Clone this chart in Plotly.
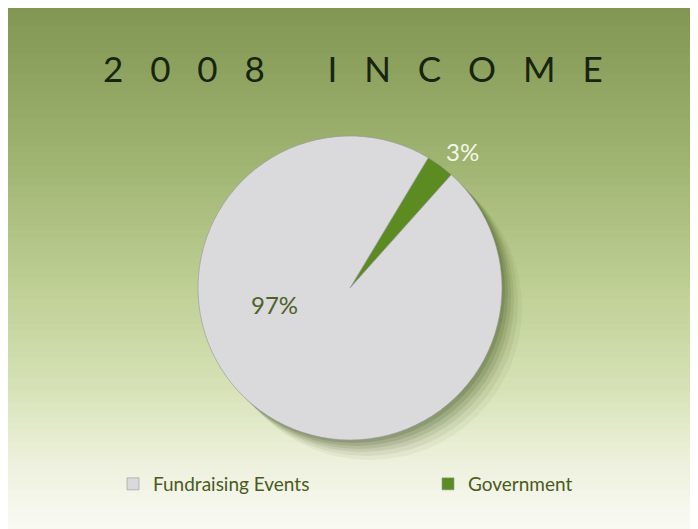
import plotly.graph_objects as go

# ---- data ----
categories = ["Government", "Fundraising Events"]
values = [3, 97]
slice_colors = ["#5c8b21", "#dadadd"]
title_words = ["2008", "INCOME"]

W, H = 698, 529
OFF = 8            # page body margin offset
L, B = 130, 60     # plot-area margins (legend sits in the bottom-left margin)
GW, GH = W - L, H - B

fig = go.Figure()

stops = [(0.0, (128, 150, 82)), (0.3, (160, 181, 114)), (0.55, (193, 209, 152)),
         (0.72, (214, 226, 182)), (0.85, (236, 240, 218)), (1.0, (250, 251, 246))]

def col_at(t):
    for (t0, c0), (t1, c1) in zip(stops[:-1], stops[1:]):
        if t0 <= t <= t1:
            f = (t - t0) / (t1 - t0)
            return tuple(int(round(a + (b - a) * f)) for a, b in zip(c0, c1))
    return stops[-1][1]

def px(x):
    return (x - OFF - L) / GW

def py(y):
    return 1 - (y - OFF) / GH

N = 80
shapes = []
for i in range(N):
    t = (i + 0.5) / N
    c = col_at(t)
    ytop = i / N * H
    ybot = (i + 1) / N * H
    shapes.append(dict(type="rect", xref="paper", yref="paper", layer="below",
                       x0=-L / GW - 0.01, x1=1.01,
                       y0=1 - ybot / GH - 0.003, y1=1 - ytop / GH + 0.003,
                       line=dict(width=0), fillcolor="rgb(%d,%d,%d)" % c))

cx, cy, r = 350, 288, 152
def dom(dx=0, dy=0):
    return dict(x=[px(cx - r + dx), px(cx + r + dx)],
                y=[py(cy + r + dy), py(cy - r + dy)])

for off, a in [(20, 0.05), (16, 0.07), (12, 0.09), (9, 0.11), (6, 0.13), (3, 0.16)]:
    fig.add_trace(go.Pie(labels=["shadow"], values=[sum(values)], domain=dom(off, off),
                         marker=dict(colors=["rgba(50,70,20,%.2f)" % a]),
                         textinfo="none", hoverinfo="skip", showlegend=False, sort=False))

fig.add_trace(go.Pie(labels=categories, values=values, sort=False, direction="clockwise",
                     rotation=31, domain=dom(),
                     marker=dict(colors=slice_colors, line=dict(color="rgba(150,150,150,0.6)", width=1)),
                     textinfo="none", hoverinfo="label+percent"))

total = sum(values)
pct = [f"{round(v / total * 100)}%" for v in values]

NB = "\u00a0"
title = (NB * 7).join((NB * 3).join(list(w)) for w in title_words)

annotations = [
    dict(text=title, x=px(353), y=py(68), xref="paper", yref="paper", showarrow=False,
         xanchor="center", yanchor="middle",
         font=dict(family="Lato, sans-serif", size=35, color="#18240e")),
    dict(text=pct[0], x=px(462), y=py(152), xref="paper", yref="paper", showarrow=False,
         xanchor="center", yanchor="middle",
         font=dict(family="Lato, sans-serif", size=24, color="#f3f7e6")),
    dict(text=pct[1], x=px(274), y=py(304), xref="paper", yref="paper", showarrow=False,
         xanchor="center", yanchor="middle",
         font=dict(family="Lato, sans-serif", size=24, color="#4e6128")),
]

fig.update_layout(
    width=W, height=H,
    margin=dict(l=L, r=0, t=0, b=B, autoexpand=False),
    paper_bgcolor="#f6f8ef",
    shapes=shapes,
    annotations=annotations,
    legend=dict(orientation="h", x=px(113), y=py(484), yanchor="middle", xanchor="left",
                traceorder="reversed", entrywidth=270, entrywidthmode="pixels",
                font=dict(family="Lato, sans-serif", size=19, color="#4b5a22"),
                bgcolor="rgba(0,0,0,0)"),
)

fig.write_html("out.html")
